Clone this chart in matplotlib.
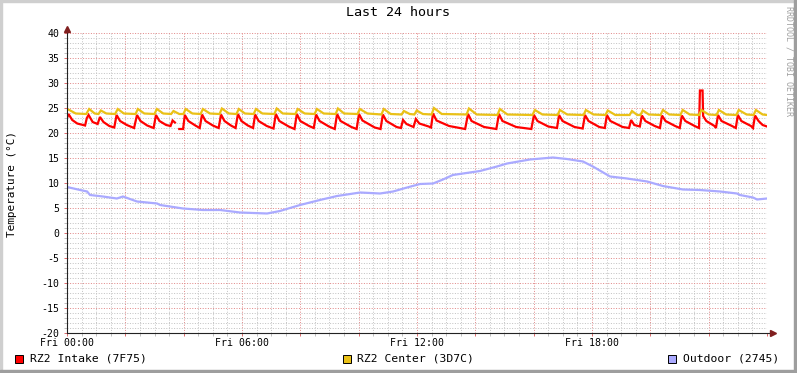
import matplotlib.pyplot as plt
from matplotlib.patches import Rectangle
from matplotlib.ticker import MultipleLocator, FuncFormatter

# hours since Fri 00:00 / degrees C
intake_t = [0.00, 0.05, 0.18, 0.35, 0.62, 0.68, 0.74, 0.88, 1.05, 1.13, 1.25, 1.45, 1.62, 1.70,
            1.82, 2.05, 2.30, 2.40, 2.52, 2.75, 2.97, 3.05, 3.17, 3.40, 3.55, 3.62, 3.70, 3.78,
            3.85, 3.98, 4.04, 4.16, 4.40, 4.55, 4.63, 4.75, 5.00, 5.20, 5.28, 5.40, 5.62, 5.78,
            5.86, 5.98, 6.20, 6.38, 6.45, 6.57, 6.85, 7.08, 7.16, 7.28, 7.60, 7.80, 7.88, 8.00,
            8.30, 8.46, 8.54, 8.66, 8.98, 9.18, 9.26, 9.38, 9.75, 9.93, 10.01, 10.13, 10.55,
            10.75, 10.83, 10.95, 11.30, 11.45, 11.52, 11.64, 11.88, 11.96, 12.08, 12.40, 12.48,
            12.55, 12.67, 13.10, 13.65, 13.75, 13.87, 14.30, 14.72, 14.81, 14.93, 15.40, 15.92,
            16.01, 16.13, 16.50, 16.80, 16.87, 16.99, 17.40, 17.68, 17.76, 17.88, 18.25, 18.44,
            18.51, 18.63, 19.05, 19.27, 19.34, 19.45, 19.64, 19.71, 19.83, 20.15, 20.33, 20.40,
            20.52, 20.85, 21.01, 21.08, 21.20, 21.52, 21.67, 21.70, 21.79, 21.81, 21.92, 22.20,
            22.25, 22.32, 22.44, 22.80, 22.93, 23.00, 23.12, 23.45, 23.52, 23.59, 23.71, 23.85,
            24.00]
intake_v = [23.0, 23.8, 22.6, 21.9, 21.5, 23.0, 23.6, 22.2, 21.8, 23.2, 22.2, 21.4, 21.1, 23.6,
            22.4, 21.6, 21.0, 23.6, 22.4, 21.5, 21.0, 23.6, 22.4, 21.6, 21.4, 22.5, 22.1, None,
            20.8, 20.8, 23.6, 22.4, 21.5, 21.0, 23.7, 22.4, 21.5, 21.0, 23.7, 22.4, 21.5, 21.0,
            23.8, 22.4, 21.5, 21.0, 23.7, 22.4, 21.4, 20.9, 23.8, 22.4, 21.3, 20.8, 23.8, 22.4,
            21.4, 21.0, 23.7, 22.4, 21.3, 20.8, 23.8, 22.4, 21.2, 20.8, 23.8, 22.5, 21.1,
            20.8, 23.7, 22.4, 21.2, 21.0, 22.6, 21.8, 21.2, 22.8, 21.9, 21.3, 21.1,
            23.9, 22.5, 21.4, 20.8, 23.8, 22.4, 21.2, 20.8, 23.8, 22.4, 21.2, 20.8,
            23.6, 22.4, 21.3, 21.0, 23.6, 22.4, 21.2, 20.9, 23.6, 22.4, 21.2, 21.0,
            23.6, 22.4, 21.2, 21.0, 22.6, 21.6, 21.3, 23.5, 22.4, 21.4, 21.0, 23.5,
            22.4, 21.4, 21.0, 23.5, 22.4, 21.4, 21.0, 28.5, 28.5, 23.4, 22.4, 21.4,
            21.0, 23.6, 22.4, 21.4, 21.0, 23.6, 22.4, 21.4, 21.0, 23.5, 22.4, 21.6,
            21.3]

center_t = [0.00, 0.08, 0.30, 0.66, 0.76, 0.95, 1.08, 1.16, 1.35, 1.65, 1.74, 1.95, 2.35, 2.43,
            2.65, 3.00, 3.08, 3.30, 3.57, 3.65, 3.85, 3.99, 4.07, 4.30, 4.58, 4.66, 4.90, 5.23,
            5.31, 5.55, 5.81, 5.89, 6.10, 6.40, 6.48, 6.70, 7.11, 7.19, 7.40, 7.83, 7.91, 8.15,
            8.49, 8.57, 8.80, 9.21, 9.29, 9.50, 9.96, 10.04, 10.30, 10.78, 10.86, 11.10, 11.47,
            11.55, 11.75, 11.91, 11.99, 12.20, 12.50, 12.58, 12.85, 13.70, 13.78, 14.05, 14.76,
            14.84, 15.10, 15.96, 16.04, 16.30, 16.82, 16.90, 17.15, 17.71, 17.79, 18.05, 18.46,
            18.54, 18.80, 19.29, 19.37, 19.55, 19.66, 19.74, 19.95, 20.35, 20.43, 20.65, 21.03,
            21.11, 21.35, 21.67, 21.75, 22.00, 22.27, 22.35, 22.60, 22.95, 23.03, 23.30, 23.54,
            23.62, 23.85, 24.00]
center_v = [24.8, 24.6, 23.9, 23.8, 24.8, 23.9, 23.8, 24.5, 23.9, 23.8, 24.8, 23.9, 23.8, 24.8,
            23.9, 23.8, 24.8, 23.9, 23.8, 24.4, 23.8, 23.8, 24.8, 23.9, 23.8, 24.8, 23.9, 23.8,
            24.9, 23.9, 23.8, 24.8, 23.9, 23.8, 24.8, 23.9, 23.8, 24.9, 23.9, 23.8, 24.8, 23.9,
            23.8, 24.8, 23.9, 23.8, 24.9, 23.9, 23.8, 24.8, 23.9, 23.7, 24.8, 23.8, 23.7,
            24.4, 23.8, 23.7, 24.5, 23.8, 23.7, 25.0, 23.8, 23.7, 24.9, 23.7, 23.6,
            24.8, 23.7, 23.6, 24.6, 23.7, 23.6, 24.6, 23.7, 23.6, 24.6, 23.7, 23.6,
            24.5, 23.6, 23.6, 24.4, 23.6, 23.6, 24.5, 23.7, 23.6, 24.6, 23.7, 23.6,
            24.6, 23.7, 23.6, 24.6, 23.7, 23.6, 24.6, 23.7, 23.6, 24.6, 23.7, 23.6,
            24.6, 23.7, 23.6]

outdoor_t = [0.00, 0.45, 0.69, 0.79, 1.23, 1.71, 1.92, 2.40, 3.09, 3.19, 3.98, 4.66, 5.25, 5.93,
             6.86, 7.30, 7.99, 8.67, 9.26, 10.05, 10.73, 11.18, 11.66, 12.10, 12.55, 12.89,
             13.23, 14.16, 14.74, 15.09, 15.87, 16.66, 17.14, 17.69, 18.03, 18.62, 19.20,
             19.89, 20.43, 21.12, 21.70, 22.39, 22.97, 23.07, 23.52, 23.66, 24.00]
outdoor_v = [9.2, 8.6, 8.3, 7.6, 7.3, 6.9, 7.3, 6.3, 5.9, 5.6, 4.9, 4.6, 4.6, 4.1,
             3.9, 4.4, 5.6, 6.6, 7.4, 8.1, 7.9, 8.3, 9.1, 9.8, 9.9, 10.7,
             11.6, 12.4, 13.3, 13.9, 14.7, 15.1, 14.8, 14.3, 13.3, 11.3, 10.9,
             10.3, 9.4, 8.7, 8.6, 8.3, 7.9, 7.6, 7.1, 6.7, 6.9]

series = [("RZ2 Intake (7F75)", intake_t, intake_v, "#FF0000"),
          ("RZ2 Center (3D7C)", center_t, center_v, "#EAC117"),
          ("Outdoor (2745)", outdoor_t, outdoor_v, "#AAAAFF")]

W, H = 797, 373
mono = "DejaVu Sans Mono"

fig = plt.figure(figsize=(W / 100, H / 100), dpi=100, facecolor="white")
ax = fig.add_axes([67 / W, (H - 333) / H, 700 / W, 300 / H])
ax.set_xlim(0, 24)
ax.set_ylim(-20, 40)

for name, t, v, col in series:
    vv = [float("nan") if x is None else x for x in v]
    ax.plot(t, vv, color=col, lw=1.6, solid_joinstyle="miter", zorder=3)

# grid, rrdtool style (dotted)
ax.xaxis.set_major_locator(MultipleLocator(2))
ax.xaxis.set_minor_locator(MultipleLocator(0.5))
ax.yaxis.set_major_locator(MultipleLocator(5))
ax.yaxis.set_minor_locator(MultipleLocator(1))
ax.grid(which="minor", color="#C4C4C4", lw=0.72, ls=(0, (1, 1.6)))
ax.grid(which="major", color="#E28A8A", lw=0.72, ls=(0, (1, 1.6)))
ax.set_axisbelow(True)
ax.xaxis.set_major_formatter(FuncFormatter(
    lambda x, p: "Fri %02d:00" % x if x % 6 == 0 and x < 24 else ""))
ax.yaxis.set_major_formatter(FuncFormatter(lambda y, p: "%d" % y))
ax.tick_params(which="major", length=2.5, width=0.72, color="#E07070", pad=1.0,
               labelsize=7.1, labelfontfamily=mono)
ax.tick_params(which="minor", length=2, width=0.72, color="#C0C0C0")
ax.tick_params(axis="y", which="major", pad=3)
for s in ax.spines.values():
    s.set_visible(False)

# axes with arrows
ax.plot([0, 24.15], [-20, -20], color="#222222", lw=0.8, clip_on=False, zorder=4)
ax.plot([0, 0], [-20, 40.6], color="#222222", lw=0.8, clip_on=False, zorder=4)
ax.plot([24.2], [-20], marker=">", ms=4, color="#801F1F", clip_on=False, zorder=5)
ax.plot([0], [40.8], marker="^", ms=4, color="#801F1F", clip_on=False, zorder=5)

fig.text(12 / W, 1 - 184 / H, "Temperature (°C)", family=mono, fontsize=7.9,
         rotation=90, ha="center", va="center")
fig.text(398 / W, 1 - 13 / H, "Last 24 hours", family=mono, fontsize=9.6,
         ha="center", va="center")
fig.text(789 / W, 1 - 6 / H, "RRDTOOL / TOBI OETIKER", family=mono, fontsize=6.0,
         color="#A0A0A0", rotation=270, ha="center", va="top")

# legend
leg_x = [(15, 30), (343, 357), (668, 683)]
for (bx, tx), (name, t, v, col) in zip(leg_x, series):
    fig.patches.append(Rectangle((bx / W, (H - 363) / H), 8 / W, 8 / H, facecolor=col,
                                 edgecolor="black", lw=0.7, transform=fig.transFigure))
    fig.text(tx / W, (H - 358.5) / H, name, family=mono, fontsize=8.2, va="center")

# shaded border
fig.patches.append(Rectangle((0, 0), 2 / W, 1, color="#CFCFCF", transform=fig.transFigure))
fig.patches.append(Rectangle((0, 1 - 2 / H), 1, 2 / H, color="#CFCFCF", transform=fig.transFigure))
fig.patches.append(Rectangle((0, 0), 1, 3 / H, color="#9E9E9E", transform=fig.transFigure))
fig.patches.append(Rectangle((1 - 3 / W, 0), 3 / W, 1, color="#9E9E9E", transform=fig.transFigure))

fig.savefig("out.png", dpi=100)
